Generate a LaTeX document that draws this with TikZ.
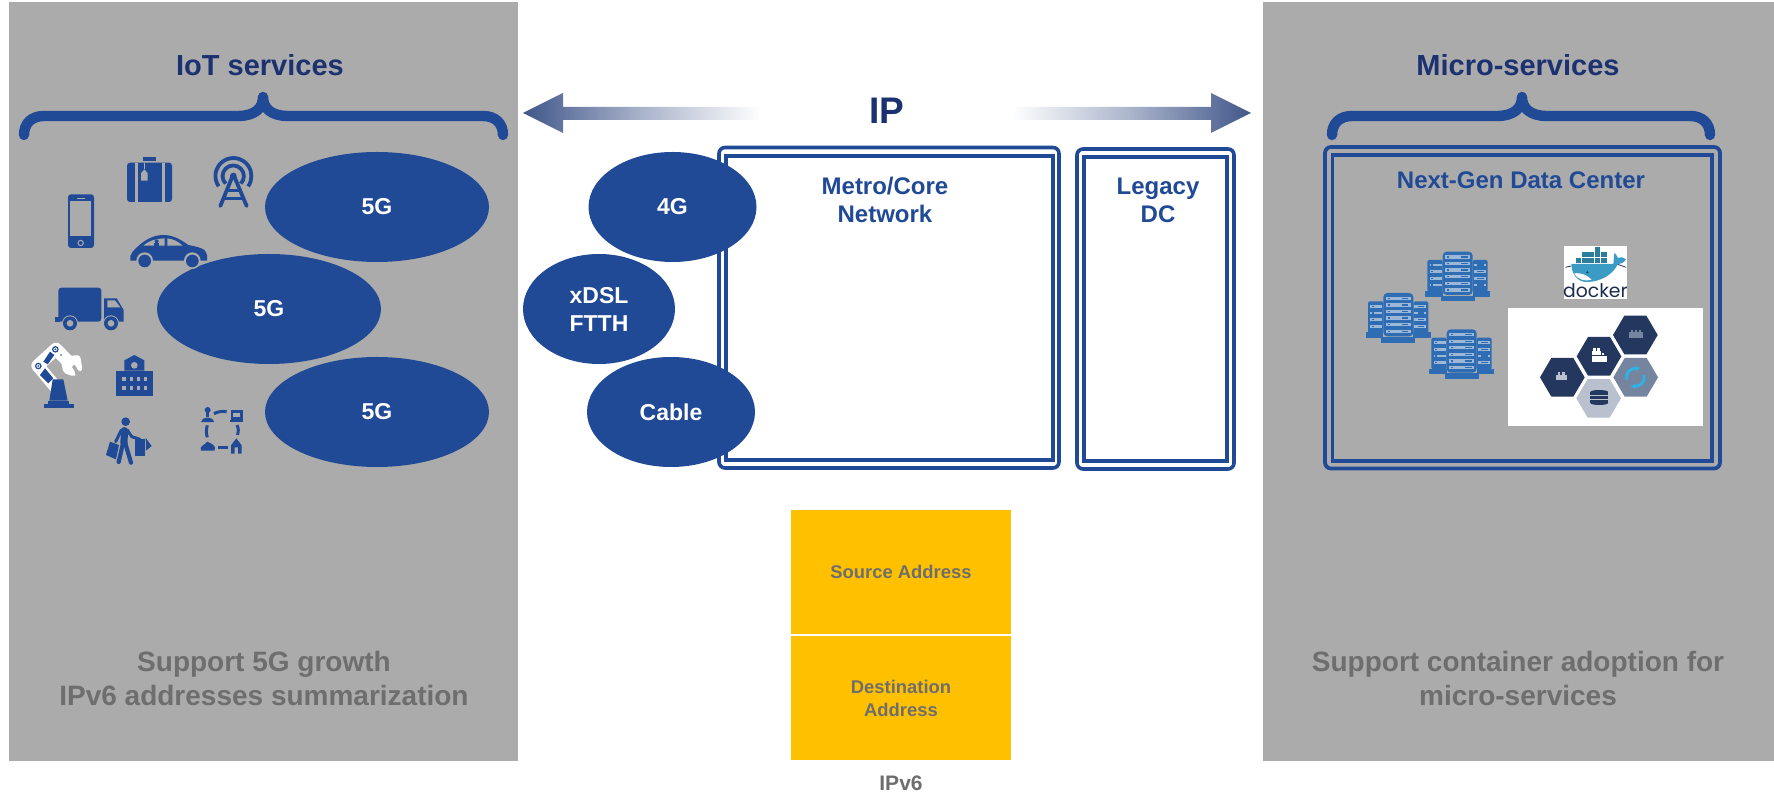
\documentclass[tikz,border=0pt]{standalone}
\usepackage{fontspec}
\setmainfont{Liberation Sans}
\newfontfamily\dockerfont{Poppins}
\usetikzlibrary{shapes.geometric,calc}
\definecolor{panelgrey}{HTML}{ABABAB}
\definecolor{blueE}{HTML}{204A96}
\definecolor{titleblue}{HTML}{1B3170}
\definecolor{txtgrey}{HTML}{6E6E6E}
\definecolor{gold}{HTML}{FFC000}
\definecolor{arrowblue}{HTML}{41578A}
\definecolor{rackblue}{HTML}{2E6DB4}
\definecolor{rackbar}{HTML}{9DB7D6}
\definecolor{hexdark}{HTML}{23375F}
\definecolor{hexmid}{HTML}{76859F}
\definecolor{hexlight}{HTML}{B9C0CE}
\definecolor{dockblue}{HTML}{3A9BC5}
\definecolor{dockdark}{HTML}{2B7F9C}
\definecolor{cyanarrow}{HTML}{2DB3E8}
\tikzset{
  panel/.style={fill=panelgrey,draw=none},
  blob/.style={ellipse,fill=blueE,draw=none,inner sep=0pt,text=white,align=center,font=\bfseries\fontsize{11.5}{14}\selectfont},
  frameout/.style={draw=blueE,line width=1.8pt,rounded corners=3pt,fill=white},
  framein/.style={draw=blueE,line width=1.8pt},
  lbl/.style={text=blueE,align=center,font=\bfseries\fontsize{12}{14}\selectfont,inner sep=0pt},
  ttl/.style={text=titleblue,font=\bfseries\fontsize{14.5}{17}\selectfont,inner sep=0pt},
  note/.style={text=txtgrey,align=center,font=\bfseries\fontsize{14}{17}\selectfont,inner sep=0pt},
  small/.style={text=txtgrey,align=center,font=\bfseries\fontsize{9.2}{11.5}\selectfont,inner sep=0pt},
  brace/.style={draw=blueE,line width=5.2pt,line cap=round,line join=round},
  goldbox/.style={fill=gold,draw=none,inner sep=0pt},
  ic/.style={fill=blueE,draw=none},
  hole/.style={fill=panelgrey,draw=none},
  zoomed/.style={x=0.16667pt,y=-0.16667pt},
  hexa/.pic={\fill[pic actions] (-67,0)--(-33,-58)--(33,-58)--(67,0)--(33,58)--(-33,58)--cycle;},
  rackgroup/.pic={
    \fill[rackblue,rounded corners=1pt] (-91,-50) rectangle (-45,45);
    \fill[rackblue,rounded corners=1pt] (45,-50) rectangle (90,45);
    \fill[rackblue] (-98,43) rectangle (-45,60);
    \fill[rackblue] (45,43) rectangle (98,60);
    \fill[rackblue,rounded corners=2pt] (-45,-75) rectangle (45,55);
    \fill[rackblue] (-51,57) rectangle (51,74);
    \foreach \r in {-59,-39,-20,0,20,40}{
      \fill[rackbar] (-37,\r-5) rectangle (37,\r+5);
      \fill[rackblue] (-31,\r-2) rectangle (-25,\r+2);
      \fill[rackblue] (10,\r-2) rectangle (30,\r+2);
    }
    \foreach \r in {-35,-15,5,25}{
      \fill[rackbar] (-84,\r-4) rectangle (-48,\r+4);
      \fill[rackblue] (-79,\r-2) rectangle (-74,\r+2);
      \fill[rackbar] (48,\r-4) rectangle (84,\r+4);
      \fill[rackblue] (58,\r-2) rectangle (78,\r+2);
    }
  },
}
\begin{document}
\begin{tikzpicture}[x=0.5pt,y=-0.5pt]
\useasboundingbox (0,0) rectangle (1774,795);
\fill[white] (0,0) rectangle (1774,795);
% panels
\path[panel] (9,2) rectangle (518,761);
\path[panel] (1263,2) rectangle (1774,761);
% titles
\node[ttl] (iot) at (260,65.5) {IoT services};
\node[ttl] (micro) at (1518,65.5) {Micro-services};
% braces
\draw[brace] (24,135) .. controls (24,123) and (32,116) .. (44,116) -- (238,116)
  .. controls (255,116) and (263,108) .. (263,97)
  .. controls (263,108) and (271,116) .. (288,116) -- (483,116)
  .. controls (495,116) and (503,123) .. (503,135);
\draw[brace] (1332,135) .. controls (1332,123) and (1340,116) .. (1352,116) -- (1497,116)
  .. controls (1514,116) and (1522,108) .. (1522,97)
  .. controls (1522,108) and (1530,116) .. (1547,116) -- (1690,116)
  .. controls (1702,116) and (1710,123) .. (1710,135);
% IP and arrows
\node[text=titleblue,font=\bfseries\fontsize{18.5}{22}\selectfont,inner sep=0pt] (ip) at (887,111) {IP};
\shade[left color=arrowblue,right color=white,middle color=arrowblue!45!white]
  (523,113)--(563,93)--(563,107)--(761,107)--(761,120)--(563,120)--(563,133)--cycle;
\shade[right color=arrowblue,left color=white,middle color=arrowblue!45!white]
  (1251,113)--(1211,93)--(1211,107)--(1012,107)--(1012,120)--(1211,120)--(1211,133)--cycle;
% Metro box
\draw[frameout] (719,147.5) rectangle (1059,468);
\draw[framein] (726,156) rectangle (1053,460);
\node[lbl] (metro) at (885,200) {Metro/Core\\Network};
% Legacy
\draw[frameout] (1077,149) rectangle (1234,469);
\draw[framein] (1084,157) rectangle (1227,461);
\node[lbl] (legacy) at (1158,200) {Legacy\\DC};
% access ellipses
\node[blob,minimum width=84pt,minimum height=55pt] (g4) at (672.5,207) {4G};
\node[blob,minimum width=76pt,minimum height=55pt] (xdsl) at (599,309) {xDSL\\FTTH};
\node[blob,minimum width=84pt,minimum height=55pt] (cable) at (671,412) {Cable};
% 5G ellipses
\node[blob,minimum width=112pt,minimum height=55pt] (a) at (377,207) {5G};
\node[blob,minimum width=112pt,minimum height=55pt] (b) at (269,309) {5G};
\node[blob,minimum width=112pt,minimum height=55pt] (c) at (377,412) {5G};
% Next-gen DC
\draw[draw=blueE,line width=1.9pt,rounded corners=3pt] (1325,147) rectangle (1720,468.5);
\draw[framein] (1332.5,155) rectangle (1712,461);
\node[lbl,font=\bfseries\fontsize{12}{14}\selectfont] (ngdc) at (1521,180) {Next-Gen Data Center};
% notes
\node[note] (n1) at (264,678) {Support 5G growth\\IPv6 addresses summarization};
\node[note] (n2) at (1518,678) {Support container adoption for\\micro-services};
% header boxes
\node[goldbox,minimum width=110pt,minimum height=62pt,small] (src) at (901,572) {Source Address};
\node[goldbox,minimum width=110pt,minimum height=62pt,small] (dst) at (901,698) {Destination\\Address};
\node[small,font=\bfseries\fontsize{10.5}{12}\selectfont] (v6) at (901,783) {IPv6};
% ---------- left icons, coordinates of a 3x view
\begin{scope}[shift={(0,100)},zoomed]
  % phone
  \fill[ic,rounded corners=1.5pt] (204,283) rectangle (282,444);
  \fill[hole] (211,303) rectangle (274,408);
  \fill[hole] (231,294) rectangle (254,297);
  \draw[panelgrey,line width=.5pt] (242,429) circle (8);
  % suitcase
  \fill[ic,rounded corners=1.5pt] (381,188) rectangle (516,306);
  \fill[ic] (430,170) rectangle (468,183);
  \fill[hole] (405,188) rectangle (413,306);
  \fill[hole] (486,188) rectangle (494,306);
  \fill[hole] (423,220)--(433,208)--(443,220)--(443,242)--(423,242)--cycle;
  \draw[panelgrey,line width=.5pt] (433,188)--(433,208);
  % antenna
  \draw[blueE,line width=1.9pt] (677,251) arc[start angle=135,end angle=405,radius=32];
  \draw[blueE,line width=1.9pt] (656,259) arc[start angle=145,end angle=395,radius=54];
  \fill[ic] (700,228) circle (10);
  \draw[blueE,line width=1.9pt,line cap=round] (697,230)--(661,318);
  \draw[blueE,line width=1.9pt,line cap=round] (703,230)--(740,318);
  \draw[blueE,line width=1.3pt] (682,272)--(718,272);
  \draw[blueE,line width=1.3pt] (672,296)--(728,296);
  % car
  \fill[ic] (391,482)--(391,468)--(398,455)
     .. controls (425,425) and (455,405) .. (490,405)
     .. controls (525,405) and (550,425) .. (565,435)
     .. controls (590,440) and (621,445) .. (621,465)
     --(621,482)--cycle;
  \fill[hole] (430,437) .. controls (445,425) and (455,418) .. (494,415) -- (494,437) --cycle;
  \fill[hole] (502,415) .. controls (520,417) and (535,425) .. (548,437) -- (502,437) --cycle;
  \fill[ic] (470,424) circle (6);
  \fill[ic] (462,430) rectangle (478,437);
  \fill[hole] (434,482) circle (25);
  \fill[hole] (577,482) circle (25);
  \fill[ic] (434,483) circle (19);
  \fill[ic] (577,483) circle (19);
  % truck
  \fill[ic,rounded corners=1.5pt] (175,563) rectangle (304,665);
  \fill[ic] (165,650) rectangle (180,665);
  \fill[ic] (312,595)--(350,595)--(371,630)--(371,665)--(312,665)--cycle;
  \fill[hole] (322,601)--(345,601)--(361,622)--(322,622)--cycle;
  \fill[hole] (210,670) circle (24);
  \fill[hole] (333,670) circle (24);
  \fill[ic] (210,670) circle (21);
  \fill[ic] (333,670) circle (21);
  \fill[hole] (210,670) circle (10);
  \fill[hole] (333,670) circle (10);
  % robot arm
  \draw[white,line width=6.3pt,line cap=round,line join=round] (170,865)--(113,797)--(168,747)--(205,785);
  \fill[white,rounded corners=1.5pt] (180,770)--(240,765)--(248,812)--(235,815)--(225,792)--(210,790)--(228,822)--(222,830)--(190,818)--cycle;
  \fill[ic] (130,785)--(150,755)--(163,765)--(143,793)--cycle;
  \fill[ic] (120,825)--(135,805)--(160,835)--(145,850)--cycle;
  \draw[blueE,line width=.6pt] (166,748) circle (8);
  \draw[blueE,line width=.6pt] (115,798) circle (8);
  \fill[ic] (166,748) circle (3);
  \fill[ic] (115,798) circle (3);
  \fill[ic] (183,765) circle (2.5);
  \fill[ic] (158,838)--(190,838)--(203,902)--(148,902)--cycle;
  \fill[ic] (145,903) rectangle (207,911);
  \fill[ic] (131,913) rectangle (221,923);
  % school
  \fill[ic] (348,812) rectangle (459,889);
  \fill[ic] (373,812)--(373,781)--(403,765)--(433,781)--(433,812)--cycle;
  \fill[hole] (403,796) circle (10);
  \foreach \px in {372,394,415,436}{
    \fill[hole] (\px-5,831) rectangle (\px+5,843);
    \fill[hole] (\px-5,858) rectangle (\px+5,870);
  }
  % shopper
  \fill[ic] (377,965) circle (13);
  \draw[blueE,line width=3.6pt,line cap=round] (373,992)--(372,1030);
  \draw[blueE,line width=2.1pt,line cap=round] (369,1030)--(356,1086);
  \draw[blueE,line width=2.1pt,line cap=round] (376,1030)--(393,1088);
  \draw[blueE,line width=1.5pt,line cap=round,line join=round] (364,990)--(347,1025);
  \draw[blueE,line width=1.5pt,line cap=round,line join=round] (382,990)--(395,1010)--(420,1018);
  \fill[ic] (318,1065)--(330,1025)--(357,1035)--(348,1078)--cycle;
  \fill[ic] (405,1018) rectangle (435,1068);
  \fill[ic] (437,1014)--(455,1038)--(438,1052)--cycle;
  % loop icon
  \fill[ic] (623,930) circle (9);
  \fill[ic] (618,936) rectangle (628,950);
  \fill[ic] (603,966) .. controls (605,948) and (640,948) .. (643,966) --cycle;
  \draw[blueE,line width=1.4pt] (696,934) rectangle (724,956);
  \fill[ic] (690,960) rectangle (729,965);
  \fill[ic] (603,1052) .. controls (596,1038) and (615,1035) .. (622,1025) .. controls (632,1030) and (650,1035) .. (644,1052) --cycle;
  \fill[ic] (693,1036)--(709,1015)--(725,1036)--(725,1061)--(714,1061)--(714,1042)--(704,1042)--(704,1061)--(693,1061)--cycle;
  \draw[blueE,line width=1.5pt] (642,941) .. controls (652,935) and (668,933) .. (680,935);
  \draw[blueE,line width=1.5pt] (622,976) .. controls (618,990) and (618,1000) .. (622,1012);
  \draw[blueE,line width=1.5pt] (711,975) .. controls (716,985) and (716,995) .. (713,1005);
  \draw[blueE,line width=1.5pt] (655,1042)--(683,1042);
\end{scope}
% ---------- right icons, coordinates of a 3x view
\begin{scope}[shift={(1320,130)},zoomed]
  \path (413,440) pic {rackgroup};
  \path (235,564) pic {rackgroup};
  \path (425,673) pic {rackgroup};
  % docker logo
  \fill[white] (732,348) rectangle (921,507);
  \foreach \cx/\cy in {786/366,805/366,824/350,824/366,843/366,767/384,786/384,805/384,824/384,843/384}
    \fill[dockdark] (\cx,\cy) rectangle ++(17,16);
  \fill[dockblue] (754,402) -- (880,402) .. controls (882,392) and (880,380) .. (884,368)
      .. controls (890,375) and (892,382) .. (894,384) .. controls (905,380) and (912,383) .. (918,388)
      .. controls (912,398) and (903,402) .. (893,403)
      .. controls (878,435) and (840,456) .. (800,456) .. controls (770,456) and (755,430) .. (754,402) --cycle;
  \fill[white] (762,430) .. controls (785,428) and (800,435) .. (815,449) .. controls (795,455) and (775,450) .. (762,430) --cycle;
  \draw[hexdark,line width=.4pt] (736,412)--(754,408);
  \draw[hexdark,line width=.4pt] (893,403)--(918,412);
  \fill[hexdark] (802,427) circle (3.5);
  \node[inner sep=0pt,text=hexdark!80!black,font=\dockerfont\fontsize{9.4}{12}\selectfont] (dockertxt) at (826,483) {docker};
  % hexagons
  \fill[white] (564,534) rectangle (1149,887);
  \path[fill=hexdark] (946,615) pic {hexa};
  \path[fill=hexdark] (837,679) pic {hexa};
  \path[fill=hexdark] (727,742) pic {hexa};
  \path[fill=hexmid] (947,742) pic {hexa};
  \path[fill=hexlight] (836,805) pic {hexa};
  % hexagon contents
  \fill[hexmid] (927,607) rectangle (968,624);
  \foreach \bx in {932,944,956}\fill[hexmid] (\bx,601) rectangle ++(7,6);
  \fill[white] (816,679) rectangle (862,697);
  \fill[white] (816,664) rectangle (842,676);
  \foreach \bx in {819,832}\fill[white] (\bx,655) rectangle ++(8,7);
  \fill[white] (845,668) rectangle (852,676);
  \fill[hexlight] (709,734) rectangle (740,751);
  \foreach \bx in {713,727}\fill[hexlight] (\bx,727) rectangle ++(8,7);
  \draw[cyanarrow,line width=1.4pt] (946,742) ++(165:27) arc[start angle=165,end angle=270,radius=27];
  \draw[cyanarrow,line width=1.4pt] (946,742) ++(-15:27) arc[start angle=-15,end angle=90,radius=27];
  \fill[cyanarrow] (946,707)--(960,715)--(946,723)--cycle;
  \fill[cyanarrow] (946,777)--(932,769)--(946,761)--cycle;
  \foreach \dy in {792,803,814}{
    \fill[hexdark] (811,\dy-5) rectangle (864,\dy+4);
    \draw[hexlight,line width=.3pt] (811,\dy+5)--(864,\dy+5);
  }
  \fill[hexdark] (837.5,786) ellipse [x radius=26.5,y radius=6];
  \fill[hexdark] (837.5,819) ellipse [x radius=26.5,y radius=6];
\end{scope}
\end{tikzpicture}
\end{document}
